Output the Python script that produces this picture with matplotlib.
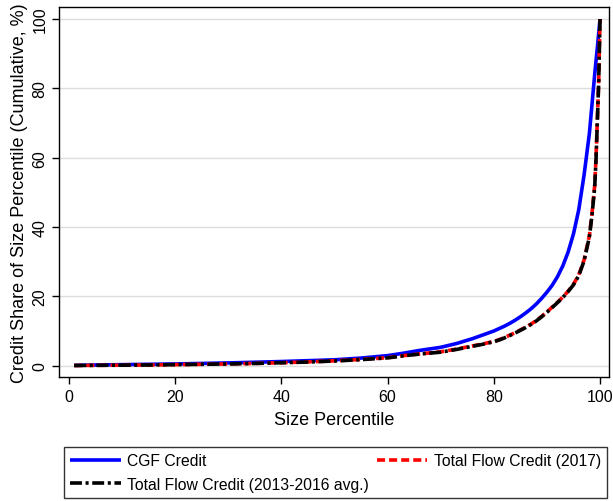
import matplotlib
matplotlib.use("Agg")
import matplotlib.pyplot as plt

pct = [1, 5, 10, 15, 20, 25, 30, 35, 40, 45, 50, 55, 60, 63, 66, 70, 73, 76, 78,
       80, 81, 82, 83, 84, 85, 86, 87, 88, 89, 90,
       91, 92, 93, 94, 95, 96, 97, 98, 98.5, 99, 99.25, 99.5, 99.75, 100]

cgf_credit = [0.1, 0.2, 0.3, 0.4, 0.5, 0.65, 0.8, 1.0, 1.2, 1.45, 1.7, 2.2, 2.9, 3.6, 4.4, 5.3, 6.4, 7.8, 8.9,
              10.0, 10.7, 11.4, 12.2, 13.1, 14.1, 15.2, 16.4, 17.8, 19.4, 21.2,
              23.2, 25.7, 28.8, 32.8, 38.0, 45.0, 55.0, 67.0, 75.5, 84.0, 88.0, 91.8, 95.8, 100.0]

flow_2017 = [0.05, 0.1, 0.15, 0.2, 0.3, 0.4, 0.5, 0.65, 0.85, 1.1, 1.4, 1.8, 2.3, 2.9, 3.4, 4.0, 4.8, 5.7, 6.3,
             7.0, 7.5, 8.1, 8.8, 9.5, 10.3, 11.1, 12.0, 13.0, 14.2, 15.5,
             16.9, 18.3, 19.8, 21.5, 23.5, 26.2, 30.5, 37.5, 44.0, 52.0, 60.0, 71.0, 82.0, 100.0]

flow_avg = [0.05, 0.1, 0.15, 0.2, 0.3, 0.4, 0.5, 0.65, 0.85, 1.05, 1.35, 1.75, 2.25, 2.85, 3.35, 3.9, 4.7, 5.6, 6.2,
            6.9, 7.4, 8.0, 8.7, 9.4, 10.2, 11.0, 11.9, 12.9, 14.1, 15.4,
            16.8, 18.2, 19.7, 21.4, 23.3, 26.0, 30.2, 37.2, 43.5, 51.5, 59.5, 70.5, 81.5, 100.0]

xticks = [0, 20, 40, 60, 80, 100]
yticks = [0, 20, 40, 60, 80, 100]

plt.rcParams['font.family'] = ['Liberation Sans', 'DejaVu Sans']
plt.rcParams['lines.scale_dashes'] = False

fig = plt.figure(figsize=(6.13, 5.02), dpi=100)
ax = fig.add_axes([59.3 / 613, 1 - 378.3 / 502, 550 / 613, 370 / 502])

ax.plot(pct, cgf_credit, color='#0000ff', lw=2.6, solid_capstyle='butt',
        label='CGF Credit')
ax.plot(pct, flow_2017, color='#ff0000', lw=2.6,
        dashes=(5.8, 2.9), label='Total Flow Credit (2017)')
ax.plot(pct, flow_avg, color='black', lw=2.6,
        dashes=(8.6, 2.6, 2.2, 2.6), label='Total Flow Credit (2013-2016 avg.)')

ax.set_xlim(-1.8, 101.75)
ax.set_ylim(-3.35, 103.4)
ax.set_xticks(xticks)
ax.set_yticks(yticks)
ax.tick_params(axis='both', labelsize=11.5, length=5, width=1, direction='out')
for lab in ax.get_yticklabels():
    lab.set_rotation(90)
    lab.set_va('center')
ax.grid(axis='y', color='#dcdcdc', lw=1)
ax.set_axisbelow(True)
for s in ax.spines.values():
    s.set_linewidth(1)

ax.set_xlabel('Size Percentile', fontsize=13, labelpad=5)
ax.set_ylabel('Credit Share of Size Percentile (Cumulative, %)', fontsize=13, labelpad=3)

h, l = ax.get_legend_handles_labels()
order = [0, 2, 1]
leg = fig.legend([h[i] for i in order], [l[i] for i in order], ncol=2,
                 loc='lower left', bbox_to_anchor=(64 / 613, 1 - 499 / 502, 543 / 613, 60 / 502),
                 mode='expand', frameon=True, fancybox=False, fontsize=11.3,
                 edgecolor='black', handlelength=3.2, borderaxespad=0,
                 handletextpad=0.4, labelspacing=0.55, columnspacing=0.5)
leg.get_frame().set_linewidth(1)

fig.savefig('out.png', dpi=100)
